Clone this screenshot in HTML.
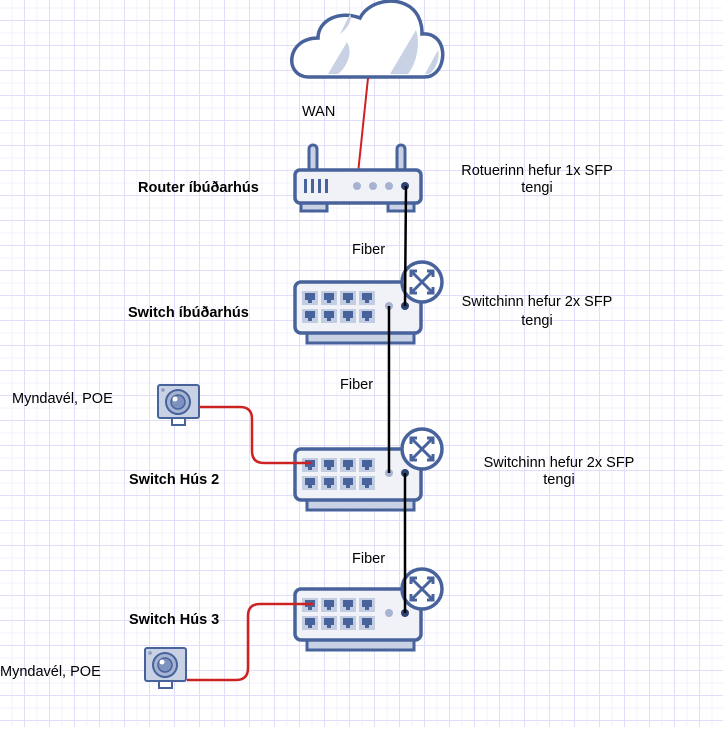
<!DOCTYPE html>
<html><head><meta charset="utf-8"><style>
body{margin:0;width:723px;height:727px;overflow:hidden;background:#fff;font-family:"Liberation Sans",sans-serif}
</style></head><body>
<svg width="723" height="727" xmlns="http://www.w3.org/2000/svg">
<defs>
<pattern id="minor" width="12.5" height="12.5" patternUnits="userSpaceOnUse" x="11.5" y="7.5">
<path d="M0 0.5H12.5M0.5 0V12.5" stroke="#f3f1fd" stroke-width="1" fill="none"/></pattern>
<pattern id="major" width="25" height="25" patternUnits="userSpaceOnUse" x="24" y="20">
<path d="M0 0.5H25M0.5 0V25" stroke="#e2ddfa" stroke-width="1" fill="none"/></pattern>
<g id="sw">
<rect x="307" y="51" width="107" height="10" fill="#c8d2e4" stroke="#48639c" stroke-width="3"/>
<rect x="295" y="0" width="126" height="51" rx="6" fill="#f0f2f8" stroke="#48639c" stroke-width="3.5"/>
<g fill="#c3cde2">
<rect x="302" y="9" width="16" height="14"/><rect x="321" y="9" width="16" height="14"/><rect x="340" y="9" width="16" height="14"/><rect x="359" y="9" width="16" height="14"/>
<rect x="302" y="27" width="16" height="14"/><rect x="321" y="27" width="16" height="14"/><rect x="340" y="27" width="16" height="14"/><rect x="359" y="27" width="16" height="14"/></g>
<g fill="#48639c">
<path d="M305 11h10v7h-3v3h-4v-3h-3z"/><path d="M324 11h10v7h-3v3h-4v-3h-3z"/><path d="M343 11h10v7h-3v3h-4v-3h-3z"/><path d="M362 11h10v7h-3v3h-4v-3h-3z"/>
<path d="M305 29h10v7h-3v3h-4v-3h-3z"/><path d="M324 29h10v7h-3v3h-4v-3h-3z"/><path d="M343 29h10v7h-3v3h-4v-3h-3z"/><path d="M362 29h10v7h-3v3h-4v-3h-3z"/></g>
<circle cx="389" cy="24" r="4" fill="#a6b4d2"/><circle cx="405" cy="24" r="4" fill="#2d4270"/>
<circle cx="422" cy="0" r="20" fill="#fff" stroke="#48639c" stroke-width="3.5"/>
<g stroke="#48639c" stroke-width="3" fill="none"><path d="M411 -11L433 11M433 -11L411 11"/>
<path d="M411 -5V-11H417M433 -5V-11H427M411 5V11H417M433 5V11H427"/></g>
</g>
<g id="cam">
<rect x="0" y="0" width="41" height="33" rx="2" fill="#c8d2e4" stroke="#48639c" stroke-width="2"/>
<circle cx="5" cy="5" r="1.8" fill="#8c9cc4"/>
<circle cx="20" cy="17" r="12" fill="#a6b4d2" stroke="#48639c" stroke-width="2"/>
<circle cx="20" cy="17" r="7" fill="#7e92c0" stroke="#48639c" stroke-width="1.5"/>
<circle cx="17" cy="14" r="2.5" fill="#fff"/>
<rect x="14" y="33" width="13" height="7" fill="#fff" stroke="#48639c" stroke-width="2"/>
</g>
</defs>
<rect width="723" height="727" fill="url(#minor)"/>
<rect width="723" height="727" fill="url(#major)"/>

<!-- cloud -->
<path d="M308 77 C284 76 286 38 318 38 C318 20 340 10 360 18 C370 -2 406 -6 418 16 C422 24 422 30 422 34 C446 32 448 64 434 74 C430 77 428 77 420 77 L312 77 Z" fill="#fff" stroke="#48639c" stroke-width="3.5"/>
<path d="M328 74 L347 42 C352 50 350 64 338 74Z M340 34 L350 14 C352 16 351 26 340 34Z M390 74 L416 30 C420 40 418 62 408 74Z M425 74 L438 50 C440 58 436 70 429 74Z" fill="#c8d2e4"/>

<path d="M368 78 L357 183" stroke="#cc2222" stroke-width="2" fill="none"/>

<!-- router -->
<rect x="309" y="145" width="8" height="26" rx="4" fill="#c8d2e4" stroke="#48639c" stroke-width="3"/>
<rect x="397" y="145" width="8" height="26" rx="4" fill="#c8d2e4" stroke="#48639c" stroke-width="3"/>
<rect x="301" y="203" width="26" height="8" fill="#c8d2e4" stroke="#48639c" stroke-width="3"/>
<rect x="388" y="203" width="26" height="8" fill="#c8d2e4" stroke="#48639c" stroke-width="3"/>
<rect x="295" y="170" width="126" height="33" rx="5" fill="#f0f2f8" stroke="#48639c" stroke-width="3.5"/>
<g fill="#48639c"><rect x="304" y="179" width="3" height="14"/><rect x="311" y="179" width="3" height="14"/><rect x="318" y="179" width="3" height="14"/><rect x="325" y="179" width="3" height="14"/></g>
<circle cx="357" cy="186" r="4" fill="#a6b4d2"/><circle cx="373" cy="186" r="4" fill="#a6b4d2"/><circle cx="389" cy="186" r="4" fill="#a6b4d2"/><circle cx="405" cy="186" r="4" fill="#2d4270"/>

<use href="#sw" y="282"/>
<use href="#sw" y="449"/>
<use href="#sw" y="589"/>

<g stroke="#000" stroke-width="2.5" fill="none">
<path d="M406 186 L405 306"/>
<path d="M389 306 L389 473"/>
<path d="M405 473 L405 613"/>
</g>

<use href="#cam" x="158" y="385"/>
<use href="#cam" x="145" y="648"/>
<g stroke="#cc2222" stroke-width="2.5" fill="none">
<path d="M200 407 H240 Q252 407 252 419 V451 Q252 463 264 463 H312"/>
<path d="M187 680 H236 Q248 680 248 668 V616 Q248 604 260 604 H313"/>
</g>

<g font-size="14.5" fill="#000">
<text x="302" y="116">WAN</text>
<text x="138" y="192" font-weight="bold">Router íbúðarhús</text>
<text x="128" y="317" font-weight="bold">Switch íbúðarhús</text>
<text x="129" y="484" font-weight="bold">Switch Hús 2</text>
<text x="129" y="624" font-weight="bold">Switch Hús 3</text>
<text x="352" y="254">Fiber</text>
<text x="340" y="389">Fiber</text>
<text x="352" y="563">Fiber</text>
<text x="12" y="403">Myndavél, POE</text>
<text x="0" y="676">Myndavél, POE</text>
<text x="537" y="175" text-anchor="middle">Rotuerinn hefur 1x SFP</text>
<text x="537" y="192" text-anchor="middle">tengi</text>
<text x="537" y="306" text-anchor="middle">Switchinn hefur 2x SFP</text>
<text x="537" y="325" text-anchor="middle">tengi</text>
<text x="559" y="467" text-anchor="middle">Switchinn hefur 2x SFP</text>
<text x="559" y="484" text-anchor="middle">tengi</text>
</g>
</svg>
</body></html>
